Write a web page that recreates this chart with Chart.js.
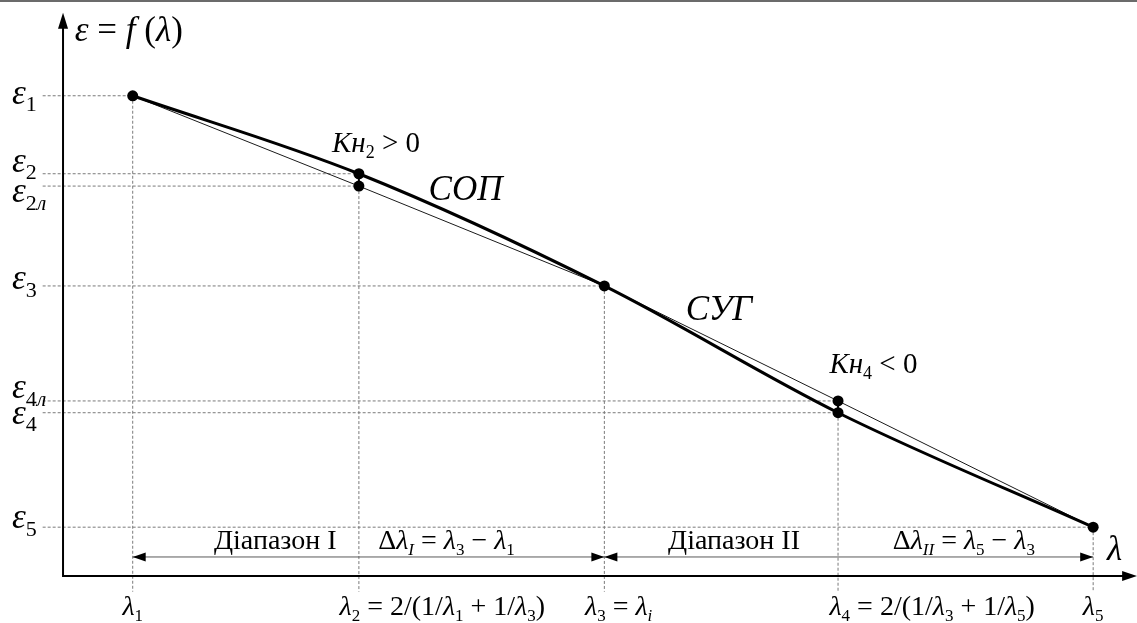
<!DOCTYPE html>
<html lang="uk">
<head>
<meta charset="utf-8">
<title>ε = f(λ)</title>
<script src="https://cdn.jsdelivr.net/npm/chart.js@4.4.1/dist/chart.umd.min.js"></script>
<style>
  html, body { margin: 0; padding: 0; background: #fff; }
  #wrap { position: relative; width: 1137px; height: 623px; }
  #topLine { position: absolute; left: 0; top: 0; width: 1137px; height: 2px; background: #6b6b6b; }
  canvas { display: block; }
</style>
</head>
<body>
<div id="wrap">
  <canvas id="chart" width="1137" height="623"></canvas>
  <div id="topLine"></div>
</div>
<script>
  // λ1..λ5 — вузли на осі абсцис (умовні одиниці)
  const lambdaValues = [6.5, 27.6, 50.5, 72.3, 96.1];
  // ε1..ε5 — значення на кривій
  const epsValues = [85.6, 71.7, 51.7, 29.1, 8.7];
  // точки на хордах: ε2л при λ2, ε4л при λ4
  const chordLambda = [27.6, 72.3];
  const chordEps = [69.5, 31.2];

  // підписи
  const epsTickLabels = ['ε_1', 'ε_2', 'ε_{2л}', 'ε_3', 'ε_{4л}', 'ε_4', 'ε_5'];
  const lambdaTickLabels = ['λ_1', 'λ_2 = 2/(1/λ_1 + 1/λ_3)', 'λ_3 = λ_i', 'λ_4 = 2/(1/λ_3 + 1/λ_5)', 'λ_5'];
  const rangeLabels = ['Діапазон І', 'Діапазон ІІ'];
  const deltaLabels = ['Δλ_I = λ_3 − λ_1', 'Δλ_{II} = λ_5 − λ_3'];
  const curveLabels = ['Кн_2 > 0', 'СОП', 'СУГ', 'Кн_4 < 0'];
  const titleLabel = 'ε = f (λ)';
  const xAxisLabel = 'λ';

  // --- геометрія/стилі (не дані) ---
  const X_MIN = -5.88, X_MAX = 100.19, Y_MIN = -8.38, Y_MAX = 102.67;
  const AXIS_END_X = 100.2, AXIS_END_Y = 100.4;
  const GUIDE_LEFT = -1.9, GUIDE_BOTTOM = -2.8, RANGE_Y = 3.39;
  const SERIF = '"Liberation Serif", "Times New Roman", "DejaVu Serif", serif';

  // рівні ε та відповідні λ для пунктирних ліній
  const epsTicks = [epsValues[0], epsValues[1], chordEps[0], epsValues[2], chordEps[1], epsValues[3], epsValues[4]];
  const epsTickLambda = [lambdaValues[0], lambdaValues[1], chordLambda[0], lambdaValues[2], chordLambda[1], lambdaValues[3], lambdaValues[4]];
  const epsLabelShift = [8, -2, 16, 3, -3, 11, 1];   // зсув базової лінії, px
  const lambdaLabelPos = [[6.5, 'center'], [25.8, 'left'], [48.7, 'left'], [71.5, 'left'], [96.1, 'center']];

  const pts = lambdaValues.map((l, i) => ({ x: l, y: epsValues[i] }));
  const chordPts = chordLambda.map((l, i) => ({ x: l, y: chordEps[i] }));

  const guideStyle = { borderColor: '#7a7a7a', borderWidth: 1, borderDash: [3, 2], pointRadius: 0, showLine: true, order: 9 };

  const hGuides = epsTicks.map((e, i) => Object.assign({
    data: [{ x: GUIDE_LEFT, y: e }, { x: epsTickLambda[i], y: e }]
  }, guideStyle));

  const vGuides = lambdaValues.map((l, i) => {
    let low = epsValues[i];
    chordLambda.forEach((cl, j) => { if (cl === l) low = Math.min(low, chordEps[j]); });
    return Object.assign({ data: [{ x: l, y: low }, { x: l, y: GUIDE_BOTTOM }] }, guideStyle);
  });

  const rangeLines = [[lambdaValues[0], lambdaValues[2]], [lambdaValues[2], lambdaValues[4]]].map(r => ({
    data: [{ x: r[0], y: RANGE_Y }, { x: r[1], y: RANGE_Y }],
    borderColor: '#5a5a5a', borderWidth: 1, pointRadius: 0, showLine: true, order: 8
  }));

  const datasets = [
    {
      data: pts, showLine: true, borderColor: '#000', borderWidth: 3,
      cubicInterpolationMode: 'monotone', pointRadius: 0, order: 2
    },
    {
      data: [pts[0], chordPts[0], pts[2]], showLine: true, borderColor: '#1a1a1a',
      borderWidth: 1, pointRadius: 0, order: 3
    },
    {
      data: [pts[2], chordPts[1], pts[4]], showLine: true, borderColor: '#1a1a1a',
      borderWidth: 1, pointRadius: 0, order: 3
    },
    {
      data: [pts[1], chordPts[0]], showLine: true, borderColor: '#000', borderWidth: 2, pointRadius: 0, order: 1
    },
    {
      data: [chordPts[1], pts[3]], showLine: true, borderColor: '#000', borderWidth: 2, pointRadius: 0, order: 1
    },
    {
      data: pts.concat(chordPts), showLine: false, pointRadius: 5.5,
      pointBackgroundColor: '#000', pointBorderWidth: 0, order: 0
    }
  ].concat(hGuides, vGuides, rangeLines);

  // розбір рядка з індексами: "ε_{2л}" -> шматки тексту
  function pieces(str, math) {
    const out = [];
    let i = 0;
    const push = (t, sub) => {
      for (const ch of t) {
        const it = math && /\p{L}/u.test(ch) && ch !== 'Δ';
        const last = out[out.length - 1];
        if (last && last.it === it && last.sub === sub) last.t += ch;
        else out.push({ t: ch, it, sub });
      }
    };
    while (i < str.length) {
      if (str[i] === '_') {
        if (str[i + 1] === '{') {
          const j = str.indexOf('}', i);
          push(str.slice(i + 2, j), true);
          i = j + 1;
        } else {
          push(str[i + 1], true);
          i += 2;
        }
      } else {
        let j = i;
        while (j < str.length && str[j] !== '_') j++;
        push(str.slice(i, j), false);
        i = j;
      }
    }
    return out;
  }

  function drawRich(ctx, str, x, y, size, align, math) {
    const ps = pieces(str, math);
    const fontOf = p => (p.it ? 'italic ' : '') + (p.sub ? Math.round(size * 0.62) : size) + 'px ' + SERIF;
    let w = 0;
    ps.forEach(p => { ctx.font = fontOf(p); p.w = ctx.measureText(p.t).width; w += p.w; });
    let cx = align === 'center' ? x - w / 2 : align === 'right' ? x - w : x;
    ps.forEach(p => {
      ctx.font = fontOf(p);
      ctx.fillText(p.t, cx, p.sub ? y + size * 0.22 : y);
      cx += p.w;
    });
  }

  function arrowHead(ctx, tx, ty, dx, dy, len, half) {
    ctx.beginPath();
    ctx.moveTo(tx, ty);
    ctx.lineTo(tx - dx * len - dy * half, ty - dy * len + dx * half);
    ctx.lineTo(tx - dx * len + dy * half, ty - dy * len - dx * half);
    ctx.closePath();
    ctx.fill();
  }

  const sketchPlugin = {
    id: 'sketch',
    afterDatasetsDraw(chart) {
      const { ctx, scales } = chart;
      const X = v => scales.x.getPixelForValue(v);
      const Y = v => scales.y.getPixelForValue(v);
      ctx.save();
      ctx.fillStyle = '#000';
      ctx.strokeStyle = '#000';

      // осі
      ctx.lineWidth = 2;
      ctx.beginPath();
      ctx.moveTo(X(0), Y(AXIS_END_Y) + 10);
      ctx.lineTo(X(0), Y(0));
      ctx.lineTo(X(AXIS_END_X) - 10, Y(0));
      ctx.stroke();
      arrowHead(ctx, X(0), Y(AXIS_END_Y), 0, -1, 16, 5);
      arrowHead(ctx, X(AXIS_END_X), Y(0), 1, 0, 15, 5);

      // стрілки діапазонів
      arrowHead(ctx, X(lambdaValues[0]), Y(RANGE_Y), -1, 0, 13, 4.5);
      arrowHead(ctx, X(lambdaValues[2]), Y(RANGE_Y), 1, 0, 13, 4.5);
      arrowHead(ctx, X(lambdaValues[2]), Y(RANGE_Y), -1, 0, 13, 4.5);
      arrowHead(ctx, X(lambdaValues[4]), Y(RANGE_Y), 1, 0, 13, 4.5);

      ctx.textBaseline = 'alphabetic';

      // підписи ε
      epsTickLabels.forEach((t, i) => {
        drawRich(ctx, t, X(-4.76), Y(epsTicks[i]) + epsLabelShift[i], 35, 'left', true);
      });

      // підписи λ
      lambdaTickLabels.forEach((t, i) => {
        drawRich(ctx, t, X(lambdaLabelPos[i][0]), Y(-6.95), 28, lambdaLabelPos[i][1], true);
      });

      // заголовок і назва осі
      drawRich(ctx, titleLabel, X(1.1), Y(95.4), 35, 'left', true);
      drawRich(ctx, xAxisLabel, X(97.4), Y(2.85), 35, 'left', true);

      // діапазони
      drawRich(ctx, rangeLabels[0], X(19.8), Y(4.8), 28, 'center', false);
      drawRich(ctx, rangeLabels[1], X(62.6), Y(4.8), 28, 'center', false);
      drawRich(ctx, deltaLabels[0], X(29.4), Y(4.8), 28, 'left', true);
      drawRich(ctx, deltaLabels[1], X(77.4), Y(4.8), 28, 'left', true);

      // підписи біля кривої
      drawRich(ctx, curveLabels[0], X(25.1), Y(75.6), 29, 'left', true);
      drawRich(ctx, curveLabels[1], X(34.1), Y(67.0), 35, 'left', true);
      drawRich(ctx, curveLabels[2], X(58.1), Y(45.6), 35, 'left', true);
      drawRich(ctx, curveLabels[3], X(71.5), Y(36.2), 29, 'left', true);

      ctx.restore();
    }
  };

  new Chart(document.getElementById('chart').getContext('2d'), {
    type: 'scatter',
    data: { datasets: datasets },
    options: {
      responsive: false,
      animation: false,
      events: [],
      layout: { padding: 0, autoPadding: false },
      plugins: { legend: { display: false }, tooltip: { enabled: false } },
      scales: {
        x: { type: 'linear', display: false, min: X_MIN, max: X_MAX },
        y: { type: 'linear', display: false, min: Y_MIN, max: Y_MAX }
      }
    },
    plugins: [sketchPlugin]
  });
</script>
</body>
</html>
